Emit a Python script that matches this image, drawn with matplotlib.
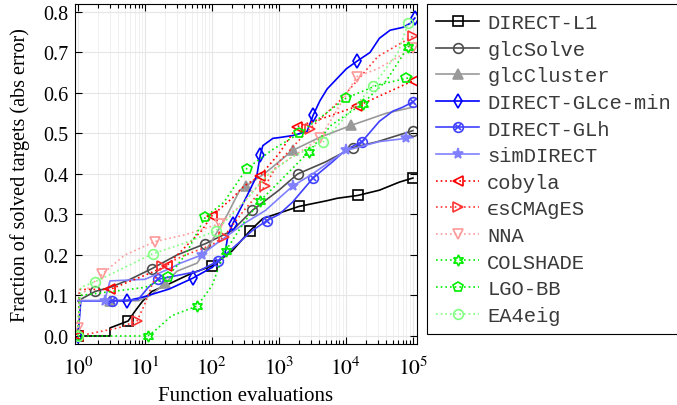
import numpy as np
import matplotlib.pyplot as plt
from matplotlib.ticker import LogLocator, NullFormatter, FixedLocator

plt.rcParams['font.family'] = ['Liberation Serif', 'DejaVu Serif']
plt.rcParams['mathtext.fontset'] = 'stix'

# traced curves: function evaluations vs fraction of solved targets
l1_fe = [1, 3, 3, 5.6, 7, 9, 12.6, 20, 32, 50, 100, 200, 370, 575, 2000, 5200, 7400, 15000, 31600, 63000, 100000]
l1_frac = [0, 0, 0.02, 0.037, 0.06, 0.084, 0.11, 0.124, 0.14, 0.155, 0.173, 0.21, 0.26, 0.29, 0.32, 0.334, 0.34,
           0.347, 0.36, 0.38, 0.39]

solve_fe = [1, 1.8, 3, 6, 12.6, 30, 80, 200, 400, 1000, 1900, 5000, 12600, 30000, 100000]
solve_frac = [0.087, 0.11, 0.12, 0.14, 0.166, 0.2, 0.228, 0.26, 0.31, 0.36, 0.40, 0.43, 0.465, 0.48, 0.507]

cluster_fe = [1, 3, 8, 12, 20, 30, 60, 100, 170, 260, 320, 600, 1600, 4000, 12000, 40000, 100000]
cluster_frac = [0.087, 0.087, 0.087, 0.1, 0.13, 0.16, 0.18, 0.235, 0.30, 0.36, 0.37, 0.40, 0.458, 0.49, 0.52, 0.55,
                0.565]

glce_fe = [1, 1.1, 5.4, 9.3, 23, 52, 102, 155, 174, 204, 331, 468, 525, 575, 813, 1020, 1620, 2630, 3240, 4070,
           5250, 7410, 10200, 14500, 22900, 31600, 45700, 70800, 91200, 107000]
glce_frac = [0, 0.087, 0.087, 0.096, 0.116, 0.143, 0.17, 0.2, 0.25, 0.277, 0.345, 0.396, 0.446, 0.47, 0.488, 0.49,
             0.495, 0.505, 0.545, 0.58, 0.61, 0.636, 0.66, 0.678, 0.70, 0.735, 0.755, 0.762, 0.772, 0.785]

glh_fe = [1, 3.2, 7.9, 11.2, 15.8, 31.6, 63, 123, 251, 398, 661, 1000, 1585, 3236, 6310, 10000, 17400, 31600,
          50100, 70800, 100000]
glh_frac = [0.087, 0.087, 0.09, 0.12, 0.14, 0.15, 0.16, 0.185, 0.23, 0.26, 0.285, 0.30, 0.33, 0.39, 0.43, 0.46,
            0.48, 0.53, 0.555, 0.565, 0.578]

sim_fe = [1, 2.5, 3, 10, 23, 34, 70, 100, 316, 630, 1000, 1600, 3160, 10000, 31600, 80000, 100000]
sim_frac = [0.087, 0.087, 0.136, 0.14, 0.166, 0.18, 0.2, 0.22, 0.28, 0.31, 0.34, 0.37, 0.40, 0.458, 0.48, 0.488,
            0.49]

cobyla_fe = [1, 1.05, 3, 5, 10, 21, 40, 70, 100, 200, 300, 525, 1000, 1870, 5000, 14500, 40000, 100000]
cobyla_frac = [0, 0.115, 0.115, 0.13, 0.15, 0.173, 0.22, 0.26, 0.297, 0.34, 0.37, 0.396, 0.45, 0.517, 0.54,
               0.567, 0.60, 0.63]

cma_fe = [1, 4, 7.6, 10, 13, 18, 40, 100, 150, 300, 620, 1000, 2900, 8000, 30000, 100000]
cma_frac = [0, 0.02, 0.037, 0.08, 0.13, 0.173, 0.2, 0.225, 0.245, 0.31, 0.37, 0.43, 0.512, 0.58, 0.69, 0.74]

nna_fe = [1, 1.1, 2.3, 5, 14, 40, 130, 300, 600, 1000, 4100, 14500, 30000, 100000]
nna_frac = [0.02, 0.1, 0.153, 0.2, 0.233, 0.25, 0.277, 0.33, 0.39, 0.42, 0.488, 0.64, 0.66, 0.71]

colshade_fe = [1, 11, 15, 25, 60, 100, 140, 160, 300, 525, 1000, 2800, 6000, 17800, 40000, 85000, 100000]
colshade_frac = [0, 0, 0.017, 0.05, 0.074, 0.124, 0.19, 0.21, 0.28, 0.334, 0.38, 0.455, 0.52, 0.574, 0.63, 0.714,
                 0.72]

lgo_fe = [1, 1.05, 10, 22, 40, 80, 150, 330, 800, 2000, 10000, 30000, 80000, 100000]
lgo_frac = [0, 0.1, 0.12, 0.146, 0.2, 0.294, 0.33, 0.413, 0.46, 0.50, 0.587, 0.62, 0.636, 0.64]

ea_fe = [1, 1.1, 1.8, 13, 40, 115, 300, 700, 1500, 4600, 25000, 60000, 85000, 100000]
ea_frac = [0, 0.12, 0.134, 0.203, 0.23, 0.26, 0.33, 0.40, 0.44, 0.48, 0.616, 0.70, 0.772, 0.775]

labels = ['DIRECT-L1', 'glcSolve', 'glcCluster', 'DIRECT-GLce-min', 'DIRECT-GLh', 'simDIRECT',
          'cobyla', '\u03f5sCMAgES', 'NNA', 'COLSHADE', 'LGO-BB', 'EA4eig']
series = [(l1_fe, l1_frac), (solve_fe, solve_frac), (cluster_fe, cluster_frac), (glce_fe, glce_frac),
          (glh_fe, glh_frac), (sim_fe, sim_frac), (cobyla_fe, cobyla_frac), (cma_fe, cma_frac),
          (nna_fe, nna_frac), (colshade_fe, colshade_frac), (lgo_fe, lgo_frac), (ea_fe, ea_frac)]

# colour, marker, filled, linestyle, marker indices
dots = (0, (1, 1.8))
styles = [
    ('#000000', 's', False, '-', [0, 3, 10, 12, 14, 17, 20]),
    ('#4d4d4d', 'o', False, '-', [1, 4, 6, 8, 10, 12, 14]),
    ('#999999', '^', True, '-', [1, 4, 10, 12, 14]),
    ('#0000ff', 'd', False, '-', [0, 2, 5, 9, 12, 18, 23, 29]),
    ('#4040ff', 'o', False, '-', [1, 4, 7, 10, 13, 16, 20]),
    ('#8080ff', '*', True, '-', [1, 6, 11, 13, 15]),
    ('#ff0000', '<', False, dots, [0, 2, 5, 8, 11, 13, 15, 17]),
    ('#ff3333', '>', False, dots, [2, 5, 8, 10, 12, 15]),
    ('#ff9999', 'v', False, dots, [0, 2, 4, 6, 10, 11, 13]),
    ('#00ee00', (6, 1, 0), False, dots, [1, 4, 7, 9, 11, 13, 15]),
    ('#00ee00', 'p', False, dots, [0, 3, 5, 7, 9, 10, 12]),
    ('#80ff80', 'o', False, dots, [0, 2, 3, 5, 9, 10, 12]),
]

fig = plt.figure(figsize=(6.77, 4.06), dpi=100)
ax = fig.add_axes([0.1108, 0.150, 0.505, 0.838])

handles = []
for (fe, frac), (col, mk, filled, ls, marks), lab in zip(series, styles, labels):
    line, = ax.plot(fe, frac, color=col, linestyle=ls, linewidth=1.2, marker=mk, markevery=marks,
                    markersize=8 if mk in ('*', (6, 1, 0)) else 7, markeredgewidth=1.2,
                    markerfacecolor=col if filled else 'none', markeredgecolor=col)
    if lab == 'DIRECT-GLh':
        # circle with a cross
        cross, = ax.plot(fe, frac, linestyle='none', marker='x', markevery=marks, markersize=5,
                         markeredgewidth=1.2, color=col)
        handles.append((line, cross))
    else:
        handles.append(line)

ax.set_xscale('log')
ax.set_xlim(10 ** -0.045, 10 ** 5.06)
ax.set_ylim(-0.02, 0.82)
ax.xaxis.set_major_locator(FixedLocator([1, 10, 100, 1000, 1e4, 1e5]))
ax.set_xticklabels([r'$10^{%d}$' % i for i in range(6)])
ax.xaxis.set_minor_locator(LogLocator(base=10, subs=np.arange(2, 10), numticks=20))
ax.xaxis.set_minor_formatter(NullFormatter())
ax.set_yticks(np.arange(0, 0.81, 0.1))
ax.set_yticklabels(['%.1f' % v for v in np.arange(0, 0.81, 0.1)])

ax.grid(True, which='major', color='#e6e6e6', linewidth=0.8)
ax.grid(True, which='minor', axis='x', color='#eeeeee', linewidth=0.6)
ax.set_axisbelow(True)
ax.tick_params(which='both', direction='in', top=True, right=True, width=0.8)
ax.tick_params(axis='y', labelsize=14.5, pad=5)
ax.tick_params(axis='x', labelsize=15.5, pad=9)
ax.tick_params(which='major', length=5)
ax.tick_params(which='minor', length=3)
for s in ax.spines.values():
    s.set_linewidth(0.8)

ax.set_xlabel('Function evaluations', fontsize=15, labelpad=5)
ax.set_ylabel('Fraction of solved targets (abs error)', fontsize=14.5, labelpad=9)

leg = fig.legend(handles, labels, loc='upper left', bbox_to_anchor=(0.6307, 0.988),
                 bbox_transform=fig.transFigure, borderaxespad=0, fancybox=False, edgecolor='black',
                 framealpha=1, handlelength=2.1, handletextpad=0.38, labelspacing=0.37,
                 borderpad=0.45, prop={'family': ['Liberation Mono', 'DejaVu Sans Mono'], 'size': 14.8})
leg.get_frame().set_linewidth(0.8)
for t in leg.get_texts():
    t.set_color('#3a3a3a')

fig.savefig('out.png', dpi=100)
